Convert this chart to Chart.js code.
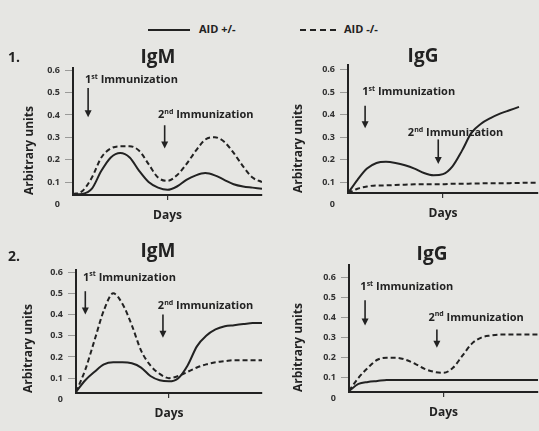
<!DOCTYPE html>
<html>
<head>
<meta charset="utf-8">
<script src="https://cdn.jsdelivr.net/npm/chart.js@4.4.0/dist/chart.umd.min.js"></script>
<style>
body { margin: 0; background: #e6e6e3; }
#wrap { position: relative; width: 539px; height: 431px; overflow: hidden; background: #e6e6e3; }
#wrap canvas { position: absolute; }
.leg { position: absolute; top: 21px; font: bold 11px 'Open Sans', sans-serif; color: #222; white-space: nowrap; }
.leg span { display: inline-block; vertical-align: middle; margin-right: 9px; width: 42px; border-top: 2px solid #222; }
</style>
</head>
<body>
<div id="wrap">
  <div class="leg" style="left:148px"><span></span>AID +/-</div>
  <div class="leg" style="left:300px"><span style="width:36px;margin-right:8px;border-top-style:dashed"></span>AID -/-</div>
  <canvas id="c1" width="270" height="185" style="left:0;top:40px"></canvas>
  <canvas id="c2" width="269" height="185" style="left:270px;top:40px"></canvas>
  <canvas id="c3" width="270" height="196" style="left:0;top:235px"></canvas>
  <canvas id="c4" width="269" height="196" style="left:270px;top:235px"></canvas>
</div>
<script>
var days = [0,1,2,3,4,5,6,7,8,9,10,11,12,13,14,15,16,17,18,19,20];
var yTicks = [0.1,0.2,0.3,0.4,0.5,0.6];

// 1. IgM
var igm1Het = [0.045,0.047,0.07,0.15,0.21,0.23,0.21,0.15,0.10,0.075,0.065,0.08,0.11,0.13,0.14,0.13,0.11,0.09,0.08,0.075,0.07];
var igm1Ko  = [0.045,0.06,0.12,0.21,0.25,0.26,0.26,0.24,0.18,0.12,0.105,0.13,0.18,0.24,0.29,0.30,0.28,0.23,0.17,0.12,0.10];
// 1. IgG
var igg1Het = [0.05,0.11,0.16,0.185,0.19,0.185,0.175,0.16,0.14,0.13,0.135,0.17,0.24,0.32,0.36,0.385,0.405,0.42,0.435,null,null];
var igg1Ko  = [0.05,0.07,0.08,0.085,0.085,0.087,0.088,0.09,0.09,0.09,0.09,0.092,0.092,0.093,0.094,0.095,0.095,0.095,0.096,0.097,0.097];
// 2. IgM
var igm2Het = [0.035,0.09,0.13,0.165,0.175,0.175,0.17,0.15,0.11,0.09,0.085,0.10,0.16,0.25,0.30,0.33,0.345,0.35,0.355,0.36,0.36];
var igm2Ko  = [0.035,0.14,0.28,0.42,0.50,0.45,0.35,0.23,0.16,0.12,0.10,0.11,0.13,0.15,0.165,0.175,0.18,0.185,0.185,0.185,0.185];
// 2. IgG
var igg2Het = [0.035,0.07,0.08,0.085,0.09,0.09,0.09,0.09,0.09,0.09,0.09,0.09,0.09,0.09,0.09,0.09,0.09,0.09,0.09,0.09,0.09];
var igg2Ko  = [0.035,0.10,0.15,0.19,0.20,0.20,0.19,0.17,0.145,0.13,0.125,0.15,0.21,0.27,0.30,0.31,0.315,0.315,0.315,0.315,0.315];

var YW = 60, XH = 28;
var FONT = "'Open Sans', sans-serif";

var panels = [
  { id: 'c1', tag: '1.', title: 'IgM', het: igm1Het, ko: igm1Ko,
    cx: 0, cy: 40, cw: 270, ch: 185, area: { l: 73, t: 68, r: 262, b: 195 },
    tagY: 58, titleX: 158, titleY: 58, yTitlePad: 9, yMin: 0.042, yMax: 0.61,
    notes: [ { n: '1', s: 'st', x: 1.27, y: 0.556, ay1: 0.52, ay2: 0.39, ax: 1.6 },
             { n: '2', s: 'nd', x: 9.0, y: 0.40, ay1: 0.354, ay2: 0.25, ax: 9.7 } ] },
  { id: 'c2', tag: '', title: 'IgG', het: igg1Het, ko: igg1Ko,
    cx: 270, cy: 40, cw: 269, ch: 185, area: { l: 348, t: 65, r: 538, b: 193 },
    titleX: 423, titleY: 57, yTitlePad: 3, yMin: 0.051, yMax: 0.622,
    notes: [ { n: '1', s: 'st', x: 1.5, y: 0.50, ay1: 0.44, ay2: 0.34, ax: 1.8 },
             { n: '2', s: 'nd', x: 6.3, y: 0.32, ay1: 0.29, ay2: 0.18, ax: 9.5 } ] },
  { id: 'c3', tag: '2.', title: 'IgM', het: igm2Het, ko: igm2Ko,
    cx: 0, cy: 235, cw: 270, ch: 196, area: { l: 76, t: 270, r: 262, b: 393 },
    tagY: 257, titleX: 158, titleY: 252, yTitlePad: 5, yMin: 0.03, yMax: 0.61,
    notes: [ { n: '1', s: 'st', x: 0.75, y: 0.575, ay1: 0.51, ay2: 0.40, ax: 1.0 },
             { n: '2', s: 'nd', x: 8.8, y: 0.44, ay1: 0.40, ay2: 0.29, ax: 9.35 } ] },
  { id: 'c4', tag: '', title: 'IgG', het: igg2Het, ko: igg2Ko,
    cx: 270, cy: 235, cw: 269, ch: 196, area: { l: 349, t: 265, r: 538, b: 392 },
    titleX: 432, titleY: 255, yTitlePad: 2, yMin: 0.03, yMax: 0.66,
    notes: [ { n: '1', s: 'st', x: 1.2, y: 0.55, ay1: 0.485, ay2: 0.36, ax: 1.7 },
             { n: '2', s: 'nd', x: 8.4, y: 0.40, ay1: 0.34, ay2: 0.25, ax: 9.3 } ] }
];

function pts(arr) {
  return days.map(function (d, i) { return { x: d, y: arr[i] }; });
}

var decor = {
  id: 'decor',
  afterDraw: function (chart, args, o) {
    var ctx = chart.ctx, xs = chart.scales.x, ys = chart.scales.y;
    ctx.save();
    ctx.fillStyle = '#222';
    ctx.strokeStyle = '#222';
    ctx.textBaseline = 'middle';
    // panel number
    if (o.tag) {
      ctx.font = 'bold 14px ' + FONT;
      ctx.textAlign = 'left';
      ctx.fillText(o.tag, 8, o.tagY);
    }
    // panel title
    ctx.font = 'bold 19px ' + FONT;
    ctx.textAlign = 'center';
    ctx.fillText(o.title, o.titleX, o.titleY);
    // "0" under the axis
    ctx.font = 'bold 9px ' + FONT;
    ctx.textAlign = 'right';
    ctx.fillStyle = '#333';
    ctx.fillText('0', ys.right - 8 - 5, ys.getPixelForValue(0));
    // immunization notes + arrows
    ctx.fillStyle = '#222';
    o.notes.forEach(function (n) {
      var x = xs.getPixelForValue(n.x), y = ys.getPixelForValue(n.y);
      ctx.textAlign = 'left';
      ctx.font = 'bold 11px ' + FONT;
      ctx.fillText(n.n, x, y);
      var w = ctx.measureText(n.n).width;
      ctx.font = 'bold 7px ' + FONT;
      ctx.fillText(n.s, x + w, y - 3);
      w += ctx.measureText(n.s).width;
      ctx.font = 'bold 11px ' + FONT;
      ctx.fillText(' Immunization', x + w, y);
      var ax = xs.getPixelForValue(n.ax), y1 = ys.getPixelForValue(n.ay1), y2 = ys.getPixelForValue(n.ay2);
      ctx.lineWidth = 1.6;
      ctx.beginPath();
      ctx.moveTo(ax, y1);
      ctx.lineTo(ax, y2 - 5);
      ctx.stroke();
      ctx.beginPath();
      ctx.moveTo(ax - 3.5, y2 - 7);
      ctx.lineTo(ax + 3.5, y2 - 7);
      ctx.lineTo(ax, y2);
      ctx.closePath();
      ctx.fill();
    });
    ctx.restore();
  }
};

panels.forEach(function (p) {
  var ctx = document.getElementById(p.id).getContext('2d');
  new Chart(ctx, {
    type: 'line',
    data: {
      datasets: [{
        label: 'AID +/-',
        data: pts(p.het),
        borderColor: '#222',
        borderWidth: 2,
        pointRadius: 0,
        cubicInterpolationMode: 'monotone'
      }, {
        label: 'AID -/-',
        data: pts(p.ko),
        borderColor: '#222',
        borderWidth: 2,
        borderDash: [5, 3],
        pointRadius: 0,
        cubicInterpolationMode: 'monotone'
      }]
    },
    plugins: [decor],
    options: {
      responsive: false,
      animation: false,
      layout: {
        padding: {
          left: p.area.l - p.cx - YW,
          right: p.cx + p.cw - p.area.r,
          top: p.area.t - p.cy,
          bottom: p.cy + p.ch - p.area.b - XH
        }
      },
      plugins: {
        legend: { display: false },
        tooltip: { enabled: false },
        title: { display: false },
        decor: {
          tag: p.tag, tagY: p.tagY - p.cy, title: p.title,
          titleX: p.titleX - p.cx, titleY: p.titleY - p.cy,
          notes: p.notes
        }
      },
      scales: {
        x: {
          type: 'linear',
          min: 0,
          max: 20,
          afterBuildTicks: function (s) { s.ticks = [{ value: 10 }]; },
          afterFit: function (s) { s.height = XH; },
          ticks: { callback: function () { return ''; } },
          grid: { drawOnChartArea: false, tickLength: 5, color: '#333', lineWidth: 1.2 },
          border: { color: '#222', width: 2 },
          title: { display: true, text: 'Days', color: '#222', padding: 0,
                   font: { family: FONT, size: 12, weight: 'bold' } }
        },
        y: {
          min: p.yMin,
          max: p.yMax,
          afterBuildTicks: function (s) { s.ticks = yTicks.map(function (v) { return { value: v }; }); },
          afterFit: function (s) { s.width = YW; },
          ticks: { padding: 5, color: '#333', font: { family: FONT, size: 9, weight: 'bold' },
                   callback: function (v) { return v.toFixed(1); } },
          grid: { drawOnChartArea: false, tickLength: 8, color: '#9a9a98', lineWidth: 1 },
          border: { color: '#222', width: 2 },
          title: { display: true, text: 'Arbitrary units', color: '#222', align: 'start',
                   padding: { top: p.yTitlePad, bottom: 0 },
                   font: { family: FONT, size: 12, weight: 'bold' } }
        }
      }
    }
  });
});
</script>
</body>
</html>
